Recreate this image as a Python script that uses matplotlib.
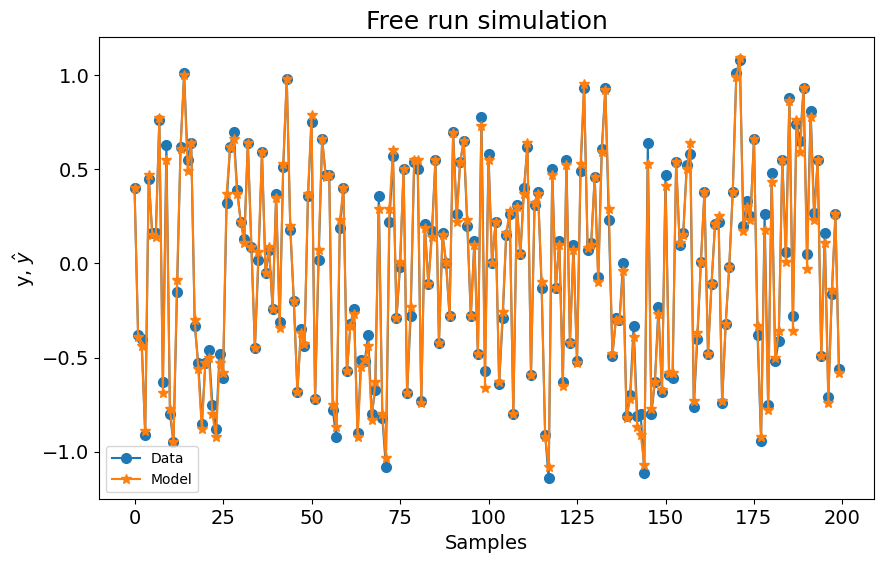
import matplotlib
matplotlib.use("Agg")
import matplotlib.pyplot as plt
import numpy as np

samples = np.arange(200)

data_y = [
    0.40, -0.38, -0.40, -0.91, 0.45, 0.16, 0.16, 0.76, -0.63, 0.63,
    -0.80, -0.95, -0.15, 0.62, 1.01, 0.55, 0.64, -0.33, -0.53, -0.85,
    -0.53, -0.46, -0.75, -0.88, -0.48, -0.61, 0.32, 0.62, 0.70, 0.39,
    0.22, 0.13, 0.64, 0.09, -0.45, 0.02, 0.59, -0.05, 0.07, -0.24,
    0.37, -0.31, 0.51, 0.98, 0.18, -0.20, -0.68, -0.35, -0.44, 0.36,
    0.75, -0.72, 0.02, 0.66, 0.47, 0.47, -0.78, -0.92, 0.19, 0.40,
    -0.57, -0.32, -0.24, -0.90, -0.51, -0.52, -0.38, -0.80, -0.67, 0.36,
    -0.82, -1.08, 0.22, 0.57, -0.29, -0.02, 0.50, -0.69, -0.28, 0.54,
    0.50, -0.73, 0.21, -0.11, 0.17, 0.55, -0.42, 0.16, 0.00, -0.28,
    0.70, 0.26, 0.54, 0.65, 0.20, -0.28, 0.12, -0.48, 0.78, -0.57,
    0.58, 0.00, 0.22, -0.64, -0.29, 0.15, 0.26, -0.80, 0.31, 0.05,
    0.40, 0.62, -0.59, 0.31, 0.38, -0.13, -0.91, -1.14, 0.50, -0.13,
    0.12, -0.63, 0.55, -0.42, 0.10, -0.52, 0.49, 0.93, 0.07, 0.11,
    0.46, -0.07, 0.61, 0.93, 0.23, -0.49, -0.29, -0.30, 0.00, -0.81,
    -0.70, -0.33, -0.81, -0.80, -1.11, 0.64, -0.80, -0.63, -0.23, -0.68,
    0.47, -0.59, -0.61, 0.54, 0.10, 0.16, 0.52, 0.58, -0.76, -0.40,
    0.01, 0.38, -0.48, -0.11, 0.21, 0.22, -0.74, -0.32, -0.02, 0.38,
    1.01, 1.08, 0.20, 0.33, 0.25, 0.66, -0.38, -0.94, 0.26, -0.75,
    0.48, -0.52, -0.41, 0.55, 0.06, 0.88, -0.28, 0.74, 0.65, 0.93,
    0.05, 0.81, 0.27, 0.55, -0.49, 0.16, -0.71, -0.16, 0.26, -0.56,
]

model_y = [
    0.40, -0.39, -0.44, -0.89, 0.47, 0.15, 0.14, 0.77, -0.69, 0.55,
    -0.77, -0.95, -0.09, 0.61, 1.00, 0.49, 0.64, -0.30, -0.56, -0.88,
    -0.53, -0.50, -0.80, -0.92, -0.53, -0.58, 0.37, 0.62, 0.66, 0.37,
    0.22, 0.11, 0.64, 0.09, -0.45, 0.06, 0.59, -0.05, 0.09, -0.24,
    0.35, -0.34, 0.53, 0.98, 0.20, -0.20, -0.68, -0.37, -0.43, 0.37,
    0.79, -0.72, 0.07, 0.66, 0.46, 0.47, -0.75, -0.87, 0.23, 0.40,
    -0.57, -0.33, -0.27, -0.92, -0.55, -0.51, -0.44, -0.83, -0.63, 0.29,
    -0.80, -1.03, 0.29, 0.60, -0.29, 0.01, 0.50, -0.69, -0.23, 0.55,
    0.55, -0.74, 0.19, -0.11, 0.14, 0.55, -0.42, 0.15, 0.01, -0.28,
    0.69, 0.22, 0.54, 0.65, 0.23, -0.28, 0.10, -0.48, 0.73, -0.66,
    0.55, 0.00, 0.22, -0.63, -0.26, 0.16, 0.28, -0.80, 0.30, 0.05,
    0.37, 0.64, -0.59, 0.32, 0.37, -0.10, -0.92, -1.08, 0.47, -0.13,
    0.10, -0.65, 0.52, -0.42, 0.07, -0.53, 0.53, 0.95, 0.08, 0.10,
    0.46, -0.10, 0.59, 0.92, 0.29, -0.48, -0.30, -0.30, -0.04, -0.82,
    -0.72, -0.39, -0.87, -0.91, -1.07, 0.53, -0.77, -0.63, -0.27, -0.67,
    0.41, -0.58, -0.58, 0.54, 0.11, 0.15, 0.50, 0.64, -0.73, -0.37,
    0.01, 0.38, -0.48, -0.11, 0.21, 0.25, -0.73, -0.32, -0.02, 0.38,
    0.99, 1.09, 0.17, 0.30, 0.23, 0.66, -0.33, -0.92, 0.18, -0.78,
    0.43, -0.50, -0.36, 0.55, 0.01, 0.86, -0.36, 0.76, 0.59, 0.93,
    -0.03, 0.78, 0.23, 0.55, -0.49, 0.11, -0.74, -0.14, 0.26, -0.58,
]

title = "Free run simulation"
xlabel = "Samples"
ylabel = r"y, $\hat{y}$"
legend_labels = ["Data", "Model"]

fig = plt.figure(figsize=(8.83, 5.62), dpi=100)
ax = fig.add_axes([0.1125, 0.1116, 0.8775, 0.8224])
ax.plot(samples, data_y, "o-", label=legend_labels[0], markersize=7)
ax.plot(samples, model_y, "*-", label=legend_labels[1], markersize=7)
ax.set_title(title, fontsize=18)
ax.set_xlabel(xlabel, fontsize=14)
ax.set_ylabel(ylabel, fontsize=14)
ax.tick_params(labelsize=14)
ax.legend(loc="lower left", fontsize=10)
fig.savefig("out.png", dpi=100)
